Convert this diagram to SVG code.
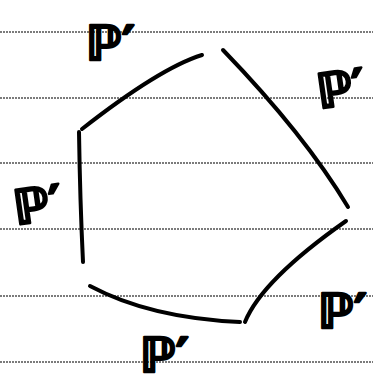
<svg xmlns="http://www.w3.org/2000/svg" width="373" height="385" viewBox="0 0 373 385">
<style>
.rule{stroke:#505050;stroke-width:1.3;stroke-dasharray:2 1;fill:none}
.ink{stroke:#000;stroke-width:4;fill:none;stroke-linecap:round;stroke-linejoin:round}
.lbl{font-family:"DejaVu Sans",sans-serif;font-weight:bold;font-size:48px;fill:#000;stroke:#000;stroke-width:2.5;stroke-linejoin:round}
</style>
<rect width="373" height="385" fill="#fff"/>
<g id="paper">
<line class="rule" x1="0" y1="32" x2="373" y2="32"/>
<line class="rule" x1="0" y1="98" x2="373" y2="98"/>
<line class="rule" x1="0" y1="163" x2="373" y2="163"/>
<line class="rule" x1="0" y1="229" x2="373" y2="229"/>
<line class="rule" x1="0" y1="296" x2="373" y2="296"/>
<line class="rule" x1="0" y1="362" x2="373" y2="362"/>
</g>
<g id="edges">
<path class="ink" d="M202,55 Q160,68 82,129"/>
<path class="ink" d="M223,50 Q305,135 348,207"/>
<path class="ink" d="M79,132 Q80,200 83,262"/>
<path class="ink" d="M90,286 Q150,318 240,322"/>
<path class="ink" d="M245,322 Q262,280 346,221"/>
</g>
<g id="label-top"><text class="lbl" x="86" y="60">ℙ′</text></g>
<g id="label-upper-right"><text class="lbl" x="316" y="106" transform="rotate(-8 338 85)">ℙ′</text></g>
<g id="label-left"><text class="lbl" x="12" y="222" transform="rotate(-8 35 195)">ℙ′</text></g>
<g id="label-lower-right"><text class="lbl" x="318" y="328">ℙ′</text></g>
<g id="label-bottom"><text class="lbl" x="140" y="372">ℙ′</text></g>
</svg>
